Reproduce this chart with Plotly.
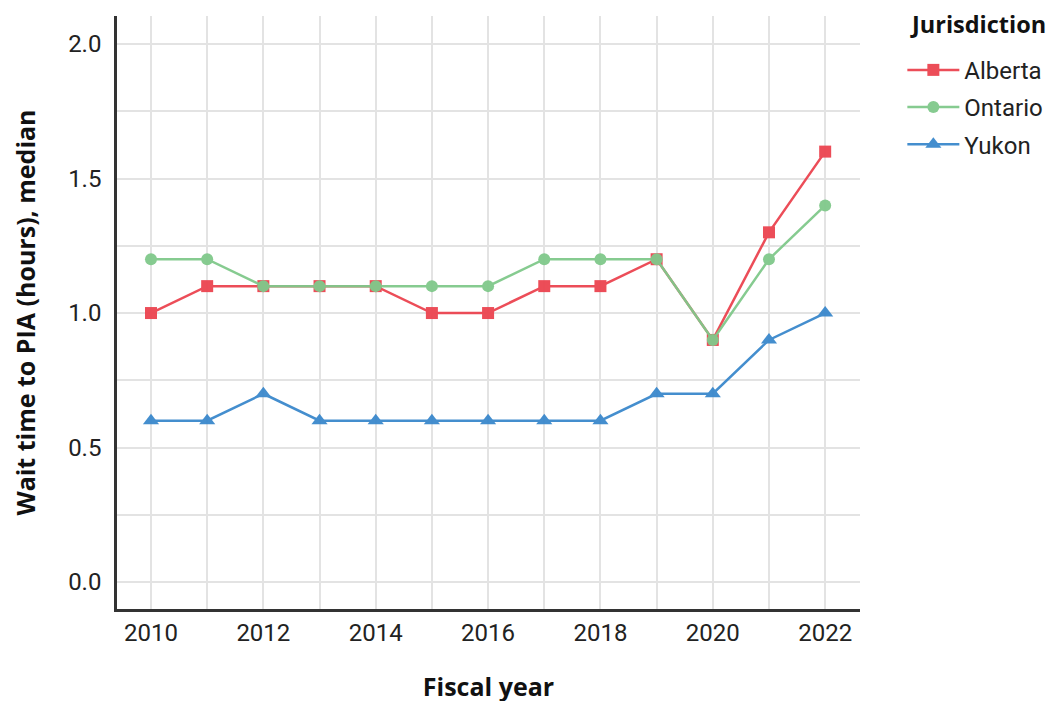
import plotly.graph_objects as go

years = list(range(2010, 2023))
alberta = [1.0, 1.1, 1.1, 1.1, 1.1, 1.0, 1.0, 1.1, 1.1, 1.2, 0.9, 1.3, 1.6]
ontario = [1.2, 1.2, 1.1, 1.1, 1.1, 1.1, 1.1, 1.2, 1.2, 1.2, 0.9, 1.2, 1.4]
yukon = [0.6, 0.6, 0.7, 0.6, 0.6, 0.6, 0.6, 0.6, 0.6, 0.7, 0.7, 0.9, 1.0]

series = [
    ("Alberta", alberta, "#ec4450", "square", 12),
    ("Ontario", ontario, "#80c98b", "circle", 12),
    ("Yukon", yukon, "#3a88cc", "triangle-up", 14),
]

fig = go.Figure()
for name, vals, color, sym, size in series:
    fig.add_trace(go.Scatter(
        x=years, y=vals, name=name, mode="lines+markers", legendgroup=name,
        line=dict(color=color, width=2.5),
        marker=dict(symbol=sym, size=size, color=color),
        opacity=0.95,
    ))

title_font = dict(family="Open Sans", size=25, color="#111")

fig.add_annotation(
    text="<b>Jurisdiction</b>", xref="paper", yref="paper",
    x=1.065, y=0.986, xanchor="left", yanchor="middle", showarrow=False,
    font=dict(family="Open Sans", size=23.5, color="#111"),
)

fig.update_layout(
    width=1055, height=701,
    margin=dict(l=109, r=203, t=8, b=100, autoexpand=False),
    paper_bgcolor="white", plot_bgcolor="white",
    font=dict(family="Roboto", size=24, color="#222"),
    legend=dict(
        x=1.057, y=0.9464, xanchor="left", yanchor="top",
        font=dict(family="Roboto", size=24, color="#222"),
        itemwidth=52, traceorder="grouped", tracegroupgap=3,
    ),
    xaxis=dict(
        range=[2009.395, 2022.62],
        tickmode="array", tickvals=list(range(2010, 2023, 2)),
        minor=dict(tickmode="array", tickvals=years, showgrid=True, gridcolor="#e3e3e3", gridwidth=1.5),
        showgrid=True, gridcolor="#e3e3e3", gridwidth=1.5,
        showline=True, linecolor="#333", linewidth=2.5,
        zeroline=False, ticks="", ticklen=0, ticklabelstandoff=0,
        title=dict(text="<b>Fiscal year</b>", font=title_font, standoff=33),
    ),
    yaxis=dict(
        range=[-0.1, 2.104],
        tickmode="array", tickvals=[0, 0.5, 1.0, 1.5, 2.0],
        ticktext=["0.0", "0.5", "1.0", "1.5", "2.0"],
        minor=dict(tickmode="array", tickvals=[0.25, 0.75, 1.25, 1.75], showgrid=True, gridcolor="#e3e3e3", gridwidth=1.5),
        showgrid=True, gridcolor="#e3e3e3", gridwidth=1.5,
        showline=True, linecolor="#333", linewidth=2.5,
        zeroline=False, ticks="", ticklen=0, ticklabelstandoff=8,
        title=dict(text="<b>Wait time to PIA (hours), median</b>", font=title_font, standoff=26),
    ),
)

fig.write_html("out.html")
